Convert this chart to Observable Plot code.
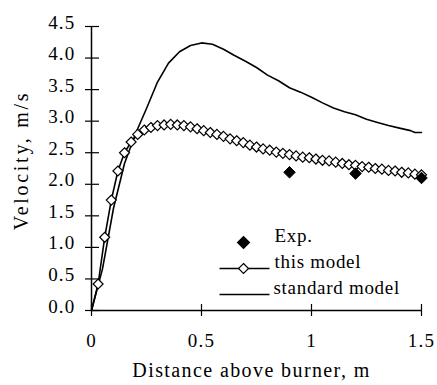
<!DOCTYPE html>
<html><head><meta charset="utf-8">
<script src="https://cdn.jsdelivr.net/npm/d3@7"></script>
<script src="https://cdn.jsdelivr.net/npm/@observablehq/plot@0.6"></script>
<style>
html,body{margin:0;padding:0;background:#fff;}
#chart svg{display:block;}
#chart svg text{font-family:"Liberation Serif","Times New Roman",serif !important;}
</style></head><body><div id="chart"></div>
<script>
// this model (line with open diamonds)
const modelX = [0, 0.03, 0.06, 0.09, 0.12, 0.15, 0.18, 0.21, 0.24, 0.27, 0.30, 0.33, 0.36, 0.39, 0.42, 0.45, 0.48, 0.51, 0.54, 0.57, 0.60, 0.63, 0.66, 0.69, 0.72, 0.75, 0.78, 0.81, 0.84, 0.87, 0.90, 0.93, 0.96, 0.99, 1.02, 1.05, 1.08, 1.11, 1.14, 1.17, 1.20, 1.23, 1.26, 1.29, 1.32, 1.35, 1.38, 1.41, 1.44, 1.47, 1.50];
const modelV = [0, 0.42, 1.16, 1.75, 2.21, 2.50, 2.67, 2.79, 2.86, 2.90, 2.93, 2.94, 2.95, 2.94, 2.93, 2.91, 2.88, 2.85, 2.82, 2.79, 2.76, 2.72, 2.69, 2.66, 2.62, 2.59, 2.56, 2.54, 2.51, 2.49, 2.47, 2.45, 2.43, 2.42, 2.40, 2.38, 2.37, 2.35, 2.33, 2.31, 2.30, 2.28, 2.27, 2.25, 2.24, 2.22, 2.21, 2.19, 2.18, 2.16, 2.15];
// standard model (plain line)
const stdX = [0, 0.05, 0.10, 0.15, 0.20, 0.25, 0.30, 0.35, 0.40, 0.45, 0.50, 0.55, 0.60, 0.65, 0.70, 0.75, 0.80, 0.85, 0.90, 0.95, 1.00, 1.05, 1.10, 1.15, 1.20, 1.25, 1.30, 1.35, 1.40, 1.45, 1.47, 1.50];
const stdV = [0, 0.66, 1.62, 2.33, 2.80, 3.20, 3.62, 3.92, 4.10, 4.20, 4.24, 4.22, 4.14, 4.04, 3.95, 3.85, 3.73, 3.64, 3.53, 3.46, 3.38, 3.29, 3.21, 3.15, 3.10, 3.03, 2.98, 2.93, 2.89, 2.85, 2.82, 2.82];
// experiment
const expX = [0.9, 1.2, 1.5];
const expV = [2.19, 2.17, 2.10];

const xTicks = [0, 0.5, 1, 1.5];
const yTicks = [0, 0.5, 1, 1.5, 2, 2.5, 3, 3.5, 4, 4.5];
const legendLabels = ["Exp.", "this model", "standard model"];
const xTitle = "Distance above burner, m";
const yTitle = "Velocity, m/s";

const model = modelX.map((x, i) => ({x, v: modelV[i]}));
const std = stdX.map((x, i) => ({x, v: stdV[i]}));
const exp = expX.map((x, i) => ({x, v: expV[i]}));
const hline = {draw(ctx) { ctx.moveTo(-25, 0); ctx.lineTo(25, 0); }};

const chart = Plot.plot({
  width: 437, height: 385,
  marginLeft: 91, marginRight: 16, marginTop: 26, marginBottom: 75,
  style: {fontFamily: "Liberation Serif", fontSize: "19px", color: "black", background: "white"},
  x: {domain: [0, 1.5]},
  y: {domain: [0, 4.5]},
  marks: [
    Plot.axisY({ticks: yTicks, tickSize: 0, tickPadding: 16, tickFormat: d3.format(".1f"), dy: -4, fontSize: 19, label: null}),
    Plot.axisX({ticks: xTicks, tickSize: 0, tickPadding: 23, tickFormat: d => String(d), fontSize: 19, label: null}),
    Plot.ruleY(yTicks, {y: d => d, x1: 0, x2: 0, insetLeft: -6, insetRight: -8, stroke: "black", strokeWidth: 1.2}),
    Plot.ruleX(xTicks, {x: d => d, y1: 0, y2: 0, insetTop: -6, insetBottom: -6, stroke: "black", strokeWidth: 1.2}),
    Plot.ruleX([0], {stroke: "black", strokeWidth: 1.5}),
    Plot.ruleY([0], {stroke: "black", strokeWidth: 1.5}),
    Plot.line(std, {x: "x", y: "v", stroke: "black", strokeWidth: 1.6}),
    Plot.line(model, {x: "x", y: "v", stroke: "black", strokeWidth: 1.6}),
    Plot.dot(model.filter(d => d.x > 0), {x: "x", y: "v", symbol: "diamond2", r: 4.5, fill: "white", stroke: "black", strokeWidth: 1.2}),
    Plot.dot(exp, {x: "x", y: "v", symbol: "diamond2", r: 5.2, fill: "black", stroke: "black", strokeWidth: 1}),
    // titles
    Plot.text([xTitle], {frameAnchor: "bottom", dx: -5, dy: 66, fontSize: 20, fill: "black"}),
    Plot.text([yTitle], {frameAnchor: "left", textAnchor: "middle", dx: -70, dy: -8, rotate: -90, fontSize: 20, fill: "black"}),
    // legend
    Plot.dot([legendLabels[0]], {frameAnchor: "top-left", dx: 152, dy: 216, symbol: "diamond2", r: 5.2, fill: "black", stroke: "black"}),
    Plot.dot([legendLabels[1]], {frameAnchor: "top-left", dx: 153, dy: 242, symbol: hline, fill: "none", stroke: "black", strokeWidth: 1.6}),
    Plot.dot([legendLabels[1]], {frameAnchor: "top-left", dx: 152, dy: 242, symbol: "diamond2", r: 4.5, fill: "white", stroke: "black", strokeWidth: 1.2}),
    Plot.dot([legendLabels[2]], {frameAnchor: "top-left", dx: 153, dy: 268, symbol: hline, fill: "none", stroke: "black", strokeWidth: 1.6}),
    Plot.text([legendLabels[0]], {frameAnchor: "top-left", dx: 183, dy: 202, text: d => d, textAnchor: "start", fontSize: 19, fill: "black"}),
    Plot.text([legendLabels[1]], {frameAnchor: "top-left", dx: 183, dy: 228, text: d => d, textAnchor: "start", fontSize: 19, fill: "black"}),
    Plot.text([legendLabels[2]], {frameAnchor: "top-left", dx: 182, dy: 254, text: d => d, textAnchor: "start", fontSize: 19, fill: "black"})
  ]
});
document.getElementById("chart").appendChild(chart);
// letter spacing to match the wide lettering of the reference
const spacing = new Map([[xTitle, "1.4px"], [yTitle, "2.7px"], ...legendLabels.map(l => [l, "0.7px"])]);
d3.select(chart).selectAll("text").each(function() {
  const t = this.textContent;
  if (spacing.has(t)) this.style.letterSpacing = spacing.get(t);
  else if (/^[0-9.]+$/.test(t)) this.style.letterSpacing = "1.2px";
});
</script></body></html>
